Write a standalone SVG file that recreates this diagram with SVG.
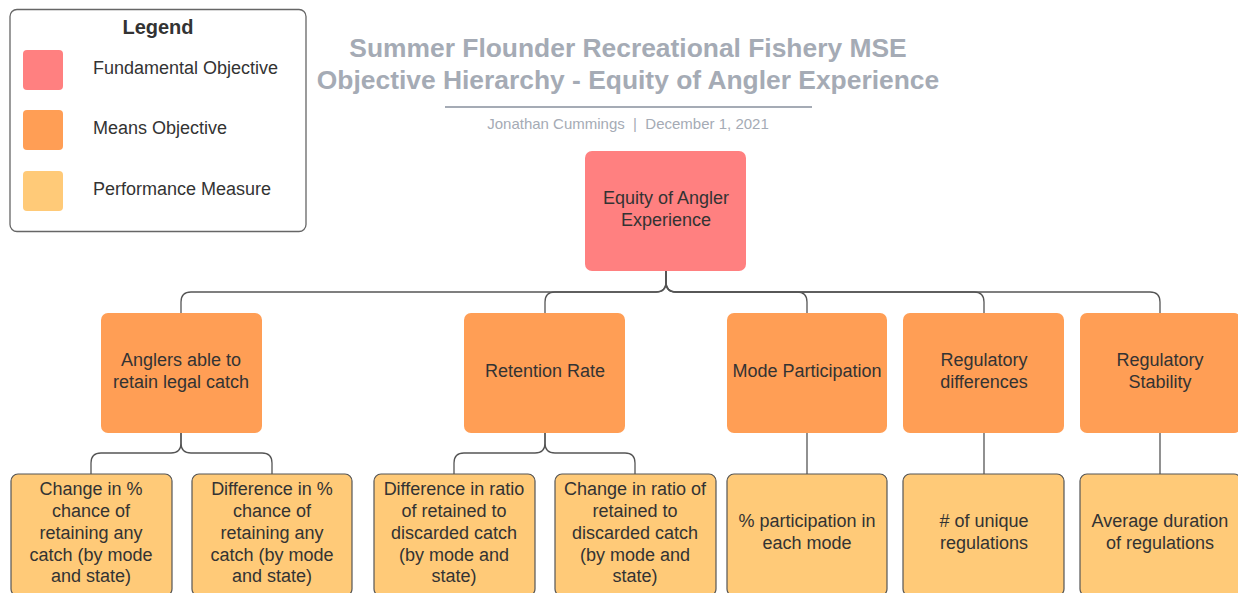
<svg xmlns="http://www.w3.org/2000/svg" width="1238" height="593" viewBox="0 0 1238 593">
<style>
text{font-family:"Liberation Sans",Arial,sans-serif;fill:#333;text-anchor:middle}
.lg{font-size:18px;text-anchor:start}
.nt{font-size:18px}
.title{font-size:26.4px;font-weight:bold;fill:#a5abb5}
.sub{font-size:15px;fill:#a5abb5;white-space:pre}
.fund{fill:#ff8080}
.means{fill:#ff9e55}
.perf{fill:#ffca78;stroke:#555;stroke-width:1.2}
.conn path{fill:none;stroke:#555;stroke-width:1.3}
</style>
<rect width="1238" height="593" fill="#fff"/>
<g id="legend">
<rect x="10" y="9.5" width="296" height="222" rx="7" fill="#fff" stroke="#666" stroke-width="1.3"/>
<text x="158" y="34" style="font-size:20px;font-weight:bold">Legend</text>
<rect x="23" y="50" width="40" height="40" rx="4" class="fund"/>
<rect x="23" y="110" width="40" height="40" rx="4" class="means"/>
<rect x="23" y="171" width="40" height="40" rx="4" fill="#ffca78"/>
<text class="lg" x="93" y="74">Fundamental Objective</text>
<text class="lg" x="93" y="134">Means Objective</text>
<text class="lg" x="93" y="195">Performance Measure</text>
</g>
<g id="title">
<text class="title" x="628" y="57">Summer Flounder Recreational Fishery MSE</text>
<text class="title" x="628" y="89">Objective Hierarchy - Equity of Angler Experience</text>
<line x1="445" y1="107" x2="812" y2="107" stroke="#a5abb5" stroke-width="2"/>
<text class="sub" x="628" y="129" xml:space="preserve">Jonathan Cummings  |  December 1, 2021</text>
</g>
<g class="conn" id="connectors">
<path d="M666 271V282Q666 292 656 292H191Q181 292 181 302V313"/>
<path d="M666 271V282Q666 292 656 292H555Q545 292 545 302V313"/>
<path d="M666 271V282Q666 292 676 292H797Q807 292 807 302V313"/>
<path d="M666 271V282Q666 292 676 292H974Q984 292 984 302V313"/>
<path d="M666 271V282Q666 292 676 292H1150Q1160 292 1160 302V313"/>
<path d="M181 433V443Q181 453 171 453H101Q91 453 91 463V474"/>
<path d="M181 433V443Q181 453 191 453H262Q272 453 272 463V474"/>
<path d="M545 433V443Q545 453 535 453H464Q454 453 454 463V474"/>
<path d="M545 433V443Q545 453 555 453H625Q635 453 635 463V474"/>
<path d="M807 433V474"/>
<path d="M984 433V474"/>
<path d="M1160 433V474"/>
</g>
<g id="root">
<rect x="585" y="151" width="161" height="120" rx="7" class="fund"/>
<text class="nt" x="666" y="204">Equity of Angler</text>
<text class="nt" x="666" y="226">Experience</text>
</g>
<g id="m1">
<rect x="101" y="313" width="161" height="120" rx="7" class="means"/>
<text class="nt" x="181" y="366">Anglers able to</text>
<text class="nt" x="181" y="388">retain legal catch</text>
</g>
<g id="m2">
<rect x="464" y="313" width="161" height="120" rx="7" class="means"/>
<text class="nt" x="545" y="377">Retention Rate</text>
</g>
<g id="m3">
<rect x="727" y="313" width="160" height="120" rx="7" class="means"/>
<text class="nt" x="807" y="377">Mode Participation</text>
</g>
<g id="m4">
<rect x="903" y="313" width="161" height="120" rx="7" class="means"/>
<text class="nt" x="984" y="366">Regulatory</text>
<text class="nt" x="984" y="388">differences</text>
</g>
<g id="m5">
<rect x="1080" y="313" width="161" height="120" rx="7" class="means"/>
<text class="nt" x="1160" y="366">Regulatory</text>
<text class="nt" x="1160" y="388">Stability</text>
</g>
<g id="p1">
<rect x="11" y="474" width="161" height="122" rx="7" class="perf"/>
<text class="nt" x="91" y="495">Change in %</text>
<text class="nt" x="91" y="517">chance of</text>
<text class="nt" x="91" y="539">retaining any</text>
<text class="nt" x="91" y="561">catch (by mode</text>
<text class="nt" x="91" y="582">and state)</text>
</g>
<g id="p2">
<rect x="192" y="474" width="160" height="122" rx="7" class="perf"/>
<text class="nt" x="272" y="495">Difference in %</text>
<text class="nt" x="272" y="517">chance of</text>
<text class="nt" x="272" y="539">retaining any</text>
<text class="nt" x="272" y="561">catch (by mode</text>
<text class="nt" x="272" y="582">and state)</text>
</g>
<g id="p3">
<rect x="374" y="474" width="161" height="122" rx="7" class="perf"/>
<text class="nt" x="454" y="495">Difference in ratio</text>
<text class="nt" x="454" y="517">of retained to</text>
<text class="nt" x="454" y="539">discarded catch</text>
<text class="nt" x="454" y="561">(by mode and</text>
<text class="nt" x="454" y="582">state)</text>
</g>
<g id="p4">
<rect x="555" y="474" width="161" height="122" rx="7" class="perf"/>
<text class="nt" x="635" y="495">Change in ratio of</text>
<text class="nt" x="635" y="517">retained to</text>
<text class="nt" x="635" y="539">discarded catch</text>
<text class="nt" x="635" y="561">(by mode and</text>
<text class="nt" x="635" y="582">state)</text>
</g>
<g id="p5">
<rect x="727" y="474" width="160" height="122" rx="7" class="perf"/>
<text class="nt" x="807" y="527">% participation in</text>
<text class="nt" x="807" y="549">each mode</text>
</g>
<g id="p6">
<rect x="903" y="474" width="161" height="122" rx="7" class="perf"/>
<text class="nt" x="984" y="527"># of unique</text>
<text class="nt" x="984" y="549">regulations</text>
</g>
<g id="p7">
<rect x="1080" y="474" width="161" height="122" rx="7" class="perf"/>
<text class="nt" x="1160" y="527">Average duration</text>
<text class="nt" x="1160" y="549">of regulations</text>
</g>
</svg>
